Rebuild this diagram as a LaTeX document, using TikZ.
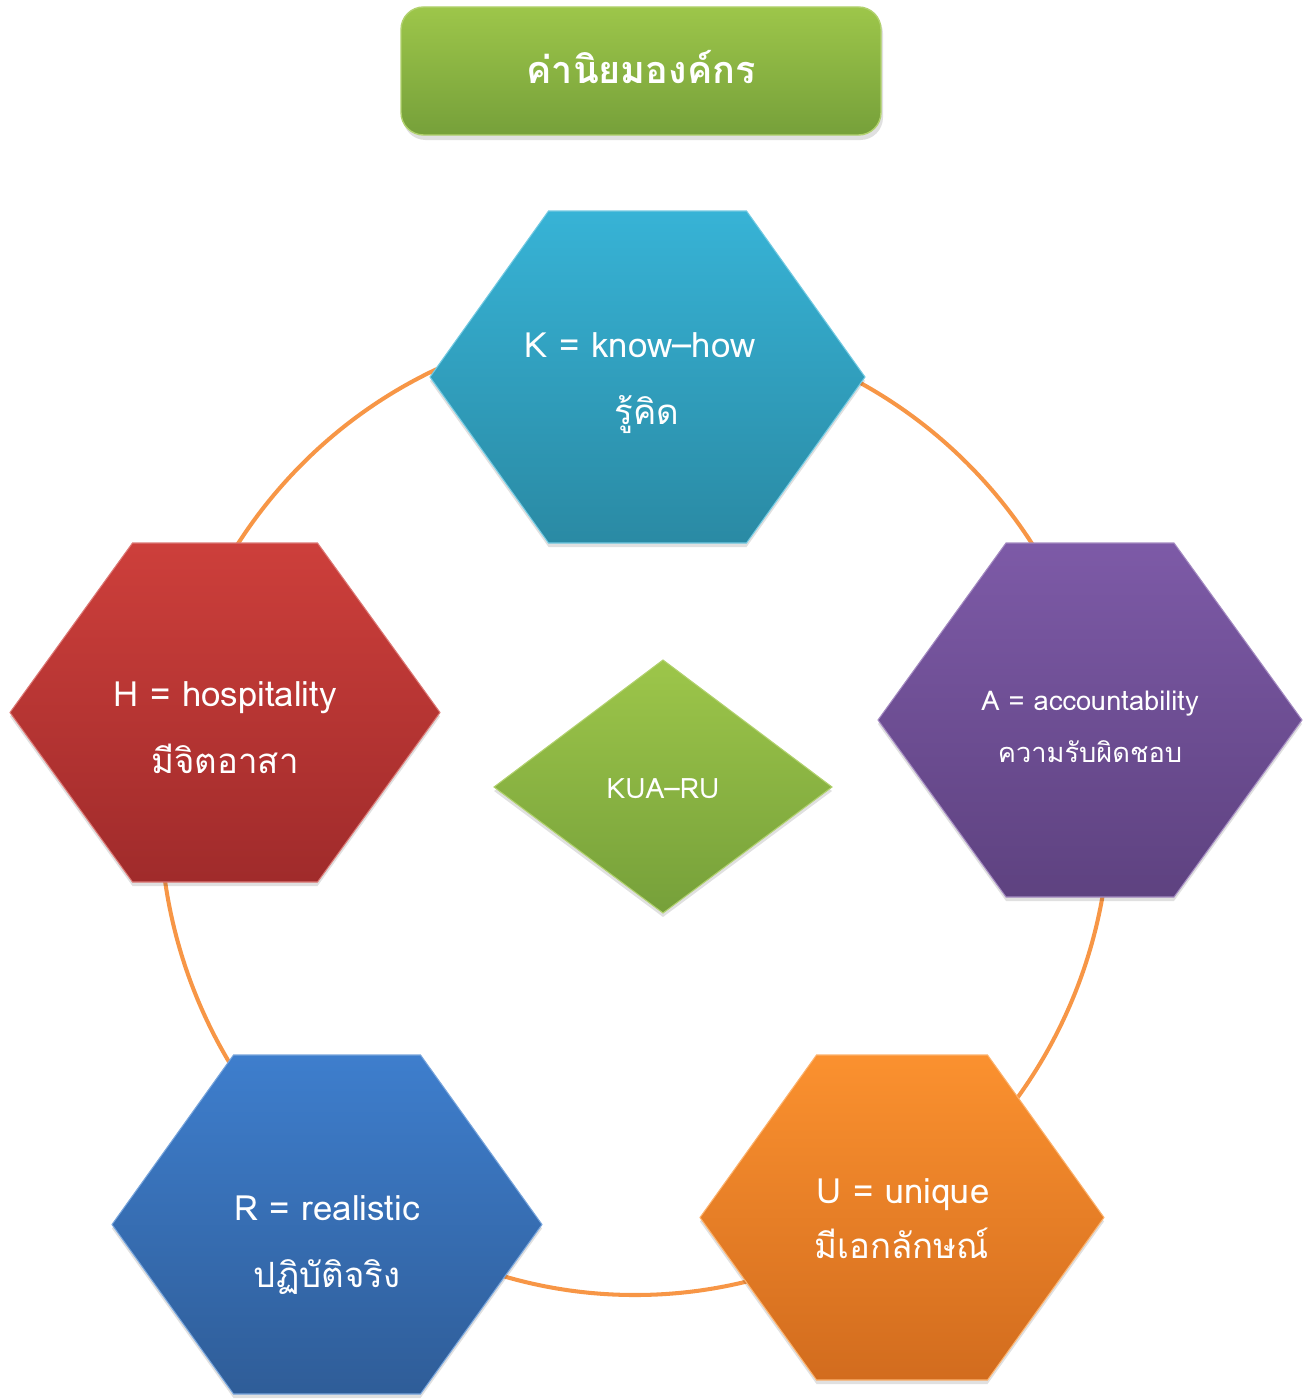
\documentclass[tikz,border=0pt]{standalone}
\usepackage{fontspec}
\usepackage{xcolor}
\usetikzlibrary{positioning}
\newfontfamily\thaifont[Script=Thai]{Loma}
\definecolor{ringOrange}{RGB}{247,150,70}
\definecolor{greenTop}{RGB}{157,198,74}
\definecolor{greenBot}{RGB}{118,160,58}
\definecolor{tealTop}{RGB}{55,179,214}
\definecolor{tealBot}{RGB}{42,138,164}
\definecolor{redTop}{RGB}{205,63,59}
\definecolor{redBot}{RGB}{160,43,43}
\definecolor{purpleTop}{RGB}{125,90,167}
\definecolor{purpleBot}{RGB}{94,66,128}
\definecolor{blueTop}{RGB}{62,126,205}
\definecolor{blueBot}{RGB}{47,93,152}
\definecolor{orangeTop}{RGB}{251,145,47}
\definecolor{orangeBot}{RGB}{210,108,30}
% hexagon: centre x, centre y, half width, half top edge, half height, top colour, bottom colour
\newcommand{\hexa}[7]{%
  \fill[black, opacity=0.12] (#1-#3,#2+4) -- (#1-#4,#2-#5+4) -- (#1+#4,#2-#5+4)
    -- (#1+#3,#2+4) -- (#1+#4,#2+#5+4) -- (#1-#4,#2+#5+4) -- cycle;
  \shade[top color=#6, bottom color=#7, draw=#6!70!white, line width=0.6pt]
    (#1-#3,#2) -- (#1-#4,#2-#5) -- (#1+#4,#2-#5) -- (#1+#3,#2)
    -- (#1+#4,#2+#5) -- (#1-#4,#2+#5) -- cycle;}

\begin{document}
\begin{tikzpicture}[x={(0.02cm,0)}, y={(0,-0.02cm)},
label/.style={text=white, inner sep=0pt, anchor=base},
big/.style={label, font=\thaifont\fontsize{19.8}{22}\selectfont},
small/.style={label, font=\thaifont\fontsize{15.5}{17}\selectfont}]
\useasboundingbox (0,0) rectangle (1313,1399);

% ring behind the hexagons
\draw[ringOrange, line width=2.3pt] (635,810) ellipse [x radius=475, y radius=485];

% title
\fill[black, opacity=0.12, rounded corners=0.45cm] (403,11) rectangle (883,140);
\shade[top color=greenTop, bottom color=greenBot, draw=greenTop!80!white,
  line width=0.8pt, rounded corners=0.45cm] (401,7) rectangle (881,135);
\node[label, font=\thaifont\bfseries\fontsize{21.5}{24}\selectfont] (title) at (641,84) {ค่านิยมองค์กร};

% hexagons
\hexa{647.5}{377}{217.5}{99}{166}{tealTop}{tealBot}
\hexa{225}{712.5}{215}{92.5}{169.5}{redTop}{redBot}
\hexa{1090}{720}{212}{84}{177}{purpleTop}{purpleBot}
\hexa{327}{1224.5}{215}{93.5}{169.5}{blueTop}{blueBot}
\hexa{902}{1217.5}{202}{85.5}{162.5}{orangeTop}{orangeBot}

% centre diamond
\fill[black, opacity=0.12] (663,664) -- (832,791) -- (663,917) -- (494,791) -- cycle;
\shade[top color=greenTop, bottom color=greenBot, draw=greenTop!80!white, line width=0.6pt]
  (663,660) -- (832,787) -- (663,913) -- (494,787) -- cycle;
\node[label, font=\thaifont\fontsize{16}{18}\selectfont] (core) at (663,798) {KUA–RU};

% texts
\node[big] (kEn) at (640,357) {K = know–how};
\node[big] (kTh) at (647,424) {รู้คิด};
\node[big] (hEn) at (225,706) {H = hospitality};
\node[big] (hTh) at (225,773) {มีจิตอาสา};
\node[small] (aEn) at (1090,710) {A = accountability};
\node[small] (aTh) at (1090,762) {ความรับผิดชอบ};
\node[big] (rEn) at (327,1220) {R = realistic};
\node[big] (rTh) at (327,1287) {ปฏิบัติจริง};
\node[big] (uEn) at (903,1203) {U = unique};
\node[big] (uTh) at (902,1258) {มีเอกลักษณ์};
\end{tikzpicture}
\end{document}
